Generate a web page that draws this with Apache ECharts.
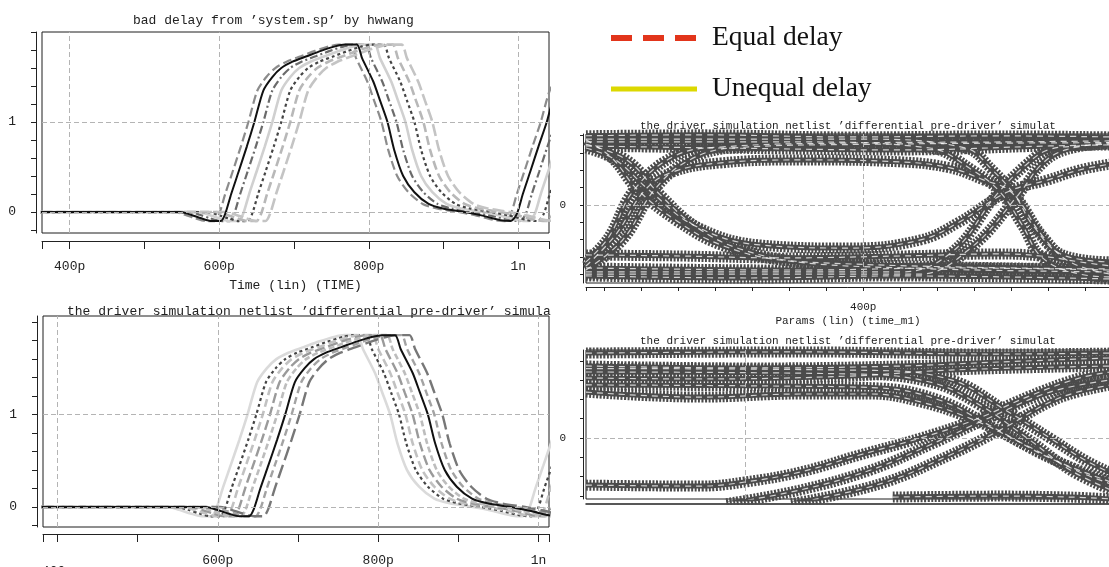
<!DOCTYPE html>
<html>
<head>
<meta charset="utf-8">
<script src="https://cdn.jsdelivr.net/npm/echarts@6/dist/echarts.min.js"></script>
<style>
  html, body { margin: 0; padding: 0; background: #fff; }
  #chart { width: 1109px; height: 567px; }
</style>
</head>
<body>
<div id="chart"></div>
<script>
const pulseT = [300, 548, 562, 576, 590, 602, 608, 616, 626, 637, 647, 659, 671, 683, 698, 717, 736, 755, 768, 784,
                791, 806, 815, 825, 834, 846, 861, 880, 899, 928, 952, 976, 990, 998, 1006, 1016, 1027, 1038, 1050,
                1062, 1074, 1089, 1110];
const pulseV = [0, 0, -0.03, -0.07, -0.1, -0.1, -0.02, 0.2, 0.45, 0.73, 1.0, 1.35, 1.5, 1.6, 1.67, 1.73, 1.79, 1.84, 1.86, 1.86,
                1.71, 1.45, 1.24, 1.0, 0.69, 0.4, 0.22, 0.09, 0.04, 0, -0.04, -0.09, -0.1, -0.02, 0.2, 0.45, 0.73, 1.0, 1.35,
                1.5, 1.6, 1.67, 1.7];
// how late each trace is against that pulse (ps)
const topDelays = [-8, 0, 12, 24, 36, 48, 60];
const bottomDelays = [-10, 1, 9, 18, 27, 37, 45, 55];

// axis ticks / labels
const tlXTicks = [363, 400, 500, 600, 700, 800, 900, 1000, 1041];
const blXTicks = [382, 400, 500, 600, 700, 800, 900, 1000, 1013];
const waveXLabelVals = [400, 600, 800, 1000];
const waveXLabelText = ['400p', '600p', '800p', '1n'];
const waveYTicks = [-0.2, 0, 0.2, 0.4, 0.6, 0.8, 1, 1.2, 1.4, 1.6, 1.8, 2];
const waveYLabelVals = [0, 1];
const waveGridX = [400, 600, 800, 1000];
const waveGridY = [0, 1];

const eyeTopXTicks = [250, 260, 280, 300, 320, 340, 360, 380, 400, 420, 440, 460, 480, 500, 520];
const eyeTopXLabelVals = [400];
const eyeTopYTicks = [-0.4, -0.3, -0.2, -0.1, 0, 0.1, 0.2, 0.3, 0.4];
const eyeBotYTicks = [-0.3, -0.2, -0.1, 0, 0.1, 0.2, 0.3, 0.4];
const eyeGridX = [400];
const eyeGridY = [0];

// eye diagram traces [time ps, volts]
const eyeTop = [
  [[250,0.4],[312,0.405],[393,0.393],[474,0.399],[534,0.393]],
  [[250,0.341],[323,0.329],[420,0.318],[501,0.341],[534,0.347]],
  [[250,-0.329],[262,-0.191],[276,0.087],[298,0.283],[323,0.335],[393,0.358],[474,0.364],[534,0.37]],
  [[250,-0.376],[270,-0.2],[287,0.087],[306,0.26],[330,0.33],[400,0.35],[534,0.36]],
  [[250,-0.353],[266,-0.173],[282,0.087],[297,0.191],[323,0.243],[366,0.26],[420,0.249],[447,0.214],[465,0.145],[480,0.075],[492,-0.121],[508,-0.289],[534,-0.329]],
  [[250,0.364],[366,0.364],[436,0.329],[459,0.202],[474,0.075],[486,-0.116],[497,-0.306],[517,-0.399],[534,-0.416]],
  [[250,0.38],[400,0.38],[455,0.33],[470,0.2],[484,0.03],[497,-0.18],[512,-0.33],[534,-0.4]],
  [[250,0.329],[266,0.26],[284,0.087],[309,-0.121],[344,-0.231],[393,-0.249],[431,-0.202],[452,-0.098],[478,0.075],[500,0.145],[517,0.202],[534,0.237]],
  [[250,0.376],[264,0.272],[278,0.087],[300,-0.098],[323,-0.231],[355,-0.318],[420,-0.364],[534,-0.387]],
  [[250,0.35],[272,0.26],[290,0.06],[310,-0.13],[335,-0.26],[370,-0.33],[534,-0.37]],
  [[250,-0.41],[339,-0.422],[420,-0.41],[534,-0.428]],
  [[250,-0.364],[366,-0.376],[447,-0.364],[534,-0.376]],
  [[250,-0.387],[420,-0.387],[448,-0.272],[472,0.058],[488,0.231],[500,0.318],[517,0.341],[534,0.353]],
  [[250,-0.4],[430,-0.4],[458,-0.25],[484,0.06],[497,0.24],[510,0.32],[534,0.36]],
  [[250,-0.289],[301,-0.295],[355,-0.306],[420,-0.295],[474,-0.283],[496,-0.295],[517,-0.329],[534,-0.353]]
];
const eyeBottom = [
  [[314,0.44],[430,0.446],[538,0.435],[598,0.44]],
  [[314,0.373],[403,0.363],[484,0.373],[538,0.394],[598,0.415]],
  [[314,0.311],[376,0.306],[457,0.321],[511,0.352],[598,0.373]],
  [[314,0.238],[376,0.212],[430,0.228],[468,0.228],[495,0.187],[524,0.093],[554,-0.047],[581,-0.176],[598,-0.238]],
  [[314,0.275],[419,0.269],[473,0.259],[505,0.197],[532,0.067],[565,-0.104],[598,-0.228]],
  [[314,0.342],[457,0.332],[500,0.29],[527,0.171],[554,-0.01],[576,-0.166],[598,-0.269]],
  [[314,0.36],[470,0.35],[512,0.3],[540,0.15],[565,0.0],[585,-0.12],[598,-0.18]],
  [[314,-0.244],[376,-0.249],[400,-0.228],[430,-0.176],[462,-0.088],[495,0],[524,0.093],[554,0.218],[581,0.311],[598,0.342]],
  [[390,-0.34],[430,-0.269],[468,-0.166],[500,-0.036],[532,0.104],[565,0.238],[598,0.301]],
  [[425,-0.34],[473,-0.238],[511,-0.088],[538,0.041],[570,0.207],[598,0.275]],
  [[480,-0.306],[538,-0.301],[576,-0.306],[598,-0.316]]
];

// line looks of the waveform traces
const topStyles = [
  { color: '#8c8c8c', width: 2.2, type: [9, 4] },
  { color: '#111111', width: 2, type: 'solid' },
  { color: '#6b6b6b', width: 2.2, type: [8, 3, 2, 3] },
  { color: '#d0d0d0', width: 2.6, type: 'solid' },
  { color: '#454545', width: 2.2, type: [3, 3] },
  { color: '#b8b8b8', width: 2.6, type: [9, 4] },
  { color: '#c4c4c4', width: 2.6, type: [12, 4] }
];
const bottomStyles = [
  { color: '#dadada', width: 2.6, type: 'solid' },
  { color: '#444444', width: 2.2, type: [3, 3] },
  { color: '#c2c2c2', width: 2.6, type: [8, 4] },
  { color: '#9a9a9a', width: 2.4, type: [10, 4] },
  { color: '#bdbdbd', width: 2.6, type: [6, 3] },
  { color: '#111111', width: 2, type: 'solid' },
  { color: '#a3a3a3', width: 2.4, type: [7, 4] },
  { color: '#777777', width: 2.4, type: [14, 5] }
];

const mono = "'Liberation Mono', 'DejaVu Sans Mono', monospace";
const ink = '#222';

function lookup(vals, texts) {
  return v => {
    const i = vals.indexOf(v);
    return i < 0 ? '' : texts[i];
  };
}

function xAxisOf(grid, min, max, opts) {
  return Object.assign({
    gridIndex: grid, type: 'value', min: min, max: max,
    axisLine: { onZero: false, lineStyle: { color: ink } },
    splitLine: { show: false }
  }, opts);
}

function yAxisOf(grid, min, max, ticks, len, margin, size) {
  return {
    gridIndex: grid, type: 'value', min: min, max: max, offset: grid < 2 ? 6 : 3,
    axisLine: { show: true, onZero: false, lineStyle: { color: ink } },
    axisTick: { show: true, customValues: ticks, length: len, lineStyle: { color: ink } },
    axisLabel: { customValues: grid < 2 ? waveYLabelVals : [0], margin: margin, color: ink,
                 fontFamily: mono, fontSize: size, formatter: v => String(v) },
    splitLine: { show: false }
  };
}

const series = [];

// dashed grid lines per panel
[[0, waveGridX, waveGridY], [1, waveGridX, waveGridY], [2, eyeGridX, eyeGridY], [3, eyeGridX, eyeGridY]].forEach(g => {
  series.push({
    type: 'line', xAxisIndex: g[0], yAxisIndex: g[0], data: [], z: 1, silent: true,
    markLine: {
      silent: true, symbol: 'none', label: { show: false },
      lineStyle: { color: '#b4b4b4', type: [5, 3], width: 1 },
      data: g[1].map(v => ({ xAxis: v })).concat(g[2].map(v => ({ yAxis: v })))
    }
  });
});

function wave(grid, delay, style, z) {
  series.push({
    type: 'line', xAxisIndex: grid, yAxisIndex: grid, symbol: 'none', smooth: 0.25, silent: true, z: z,
    lineStyle: style,
    data: pulseT.map((t, i) => [t + delay, pulseV[i]])
  });
}
topDelays.forEach((d, i) => wave(0, d, topStyles[i], topStyles[i].color === '#111111' ? 4 : 3));
bottomDelays.forEach((d, i) => wave(1, d, bottomStyles[i], bottomStyles[i].color === '#111111' ? 4 : 3));

// each eye trace: ragged dashed halo, solid core, faint white streak on top
function eye(grid, traces) {
  traces.forEach(tr => {
    const base = { type: 'line', xAxisIndex: grid, yAxisIndex: grid, symbol: 'none', smooth: 0.4, silent: true, data: tr };
    series.push(Object.assign({ z: 3, lineStyle: { color: '#4b4b4b', width: 11, type: [2, 1.5] } }, base));
    series.push(Object.assign({ z: 3, lineStyle: { color: '#4b4b4b', width: 5 } }, base));
    series.push(Object.assign({ z: 4, lineStyle: { color: '#ffffff', width: 1.2, opacity: 0.75, type: [6, 5] } }, base));
  });
}
eye(2, eyeTop);
eye(3, eyeBottom);

// legend entries
series.push({ name: 'Equal delay', type: 'line', xAxisIndex: 0, yAxisIndex: 0, data: [], symbol: 'none',
  itemStyle: { color: '#e2351b' }, lineStyle: { color: '#e2351b', width: 6, type: [21, 11] } });
series.push({ name: 'Unequal delay', type: 'line', xAxisIndex: 0, yAxisIndex: 0, data: [], symbol: 'none',
  itemStyle: { color: '#dcd800' }, lineStyle: { color: '#dcd800', width: 5, type: 'solid' } });

const titleStyle = size => ({ fontFamily: mono, fontSize: size, fontWeight: 'normal', color: ink });
const eyeTitle = 'the driver simulation netlist ’differential pre-driver’ simulat';

const gridBox = (l, t, w, h) => ({ left: l, top: t, width: w, height: h, show: true, borderColor: '#1e1e1e',
                                   borderWidth: 1, outerBoundsMode: 'none', containLabel: false });

const option = {
  animation: false,
  backgroundColor: '#fff',
  title: [
    { text: 'bad delay from ’system.sp’ by hwwang', left: 133, top: 14, padding: 0, textStyle: titleStyle(13) },
    { text: 'the driver simulation netlist ’differential pre-driver’ simula', left: 67, top: 305, padding: 0, textStyle: titleStyle(13) },
    { text: eyeTitle, left: 640, top: 121, padding: 0, textStyle: titleStyle(11) },
    { text: eyeTitle, left: 640, top: 336, padding: 0, textStyle: titleStyle(11) }
  ],
  legend: {
    data: ['Equal delay', 'Unequal delay'],
    orient: 'vertical', left: 608, top: 24, padding: 0,
    itemWidth: 86, itemHeight: 27, itemGap: 23, selectedMode: false,
    lineStyle: { width: 'inherit' },
    itemStyle: { opacity: 0, borderWidth: 0 },
    textStyle: { fontFamily: "'Liberation Serif', 'DejaVu Serif', serif", fontSize: 27.5, color: '#111', padding: [0, 0, 0, 10] }
  },
  grid: [
    gridBox(42, 32, 507, 201),
    gridBox(43, 316, 506, 211),
    gridBox(586, 134, 524, 149),
    gridBox(586, 350, 524, 149)
  ],
  xAxis: [
    xAxisOf(0, 363, 1041, {
      offset: 8,
      axisTick: { customValues: tlXTicks, length: 8, lineStyle: { color: ink } },
      axisLabel: { customValues: waveXLabelVals, margin: 19, color: ink, fontFamily: mono, fontSize: 13,
                   formatter: lookup(waveXLabelVals, waveXLabelText) },
      name: 'Time (lin) (TIME)', nameLocation: 'middle', nameGap: 38,
      nameTextStyle: { fontFamily: mono, fontSize: 13, color: ink }
    }),
    xAxisOf(1, 382, 1013, {
      offset: 7,
      axisTick: { customValues: blXTicks, length: 8, lineStyle: { color: ink } },
      axisLabel: { customValues: waveXLabelVals, margin: 20, color: ink, fontFamily: mono, fontSize: 13,
                   formatter: v => v === 400 ? '{low|400p}' : lookup(waveXLabelVals, waveXLabelText)(v),
                   rich: { low: { padding: [11, 0, 0, 0], fontFamily: mono, fontSize: 13, color: ink } } }
    }),
    xAxisOf(2, 250, 533.5, {
      offset: 4,
      axisTick: { customValues: eyeTopXTicks, length: 4, lineStyle: { color: ink } },
      axisLabel: { customValues: eyeTopXLabelVals, margin: 15, color: ink, fontFamily: mono, fontSize: 11,
                   formatter: v => v + 'p' },
      name: 'Params (lin) (time_m1)', nameLocation: 'middle', nameGap: 29,
      nameTextStyle: { fontFamily: mono, fontSize: 11, color: ink }
    }),
    xAxisOf(3, 314, 597.5, {
      offset: 5,
      axisLine: { onZero: false, lineStyle: { color: ink, width: 1.5 } },
      axisTick: { show: false }, axisLabel: { show: false }
    })
  ],
  yAxis: [
    yAxisOf(0, -0.233, 2.0, waveYTicks, 5, 20, 13),
    yAxisOf(1, -0.216, 2.067, waveYTicks, 5, 20, 13),
    yAxisOf(2, -0.451, 0.41, eyeTopYTicks, 3, 17, 11),
    yAxisOf(3, -0.316, 0.456, eyeBotYTicks, 3, 17, 11)
  ],
  series: series
};

const chart = echarts.init(document.getElementById('chart'));
chart.setOption(option);
</script>
</body>
</html>
